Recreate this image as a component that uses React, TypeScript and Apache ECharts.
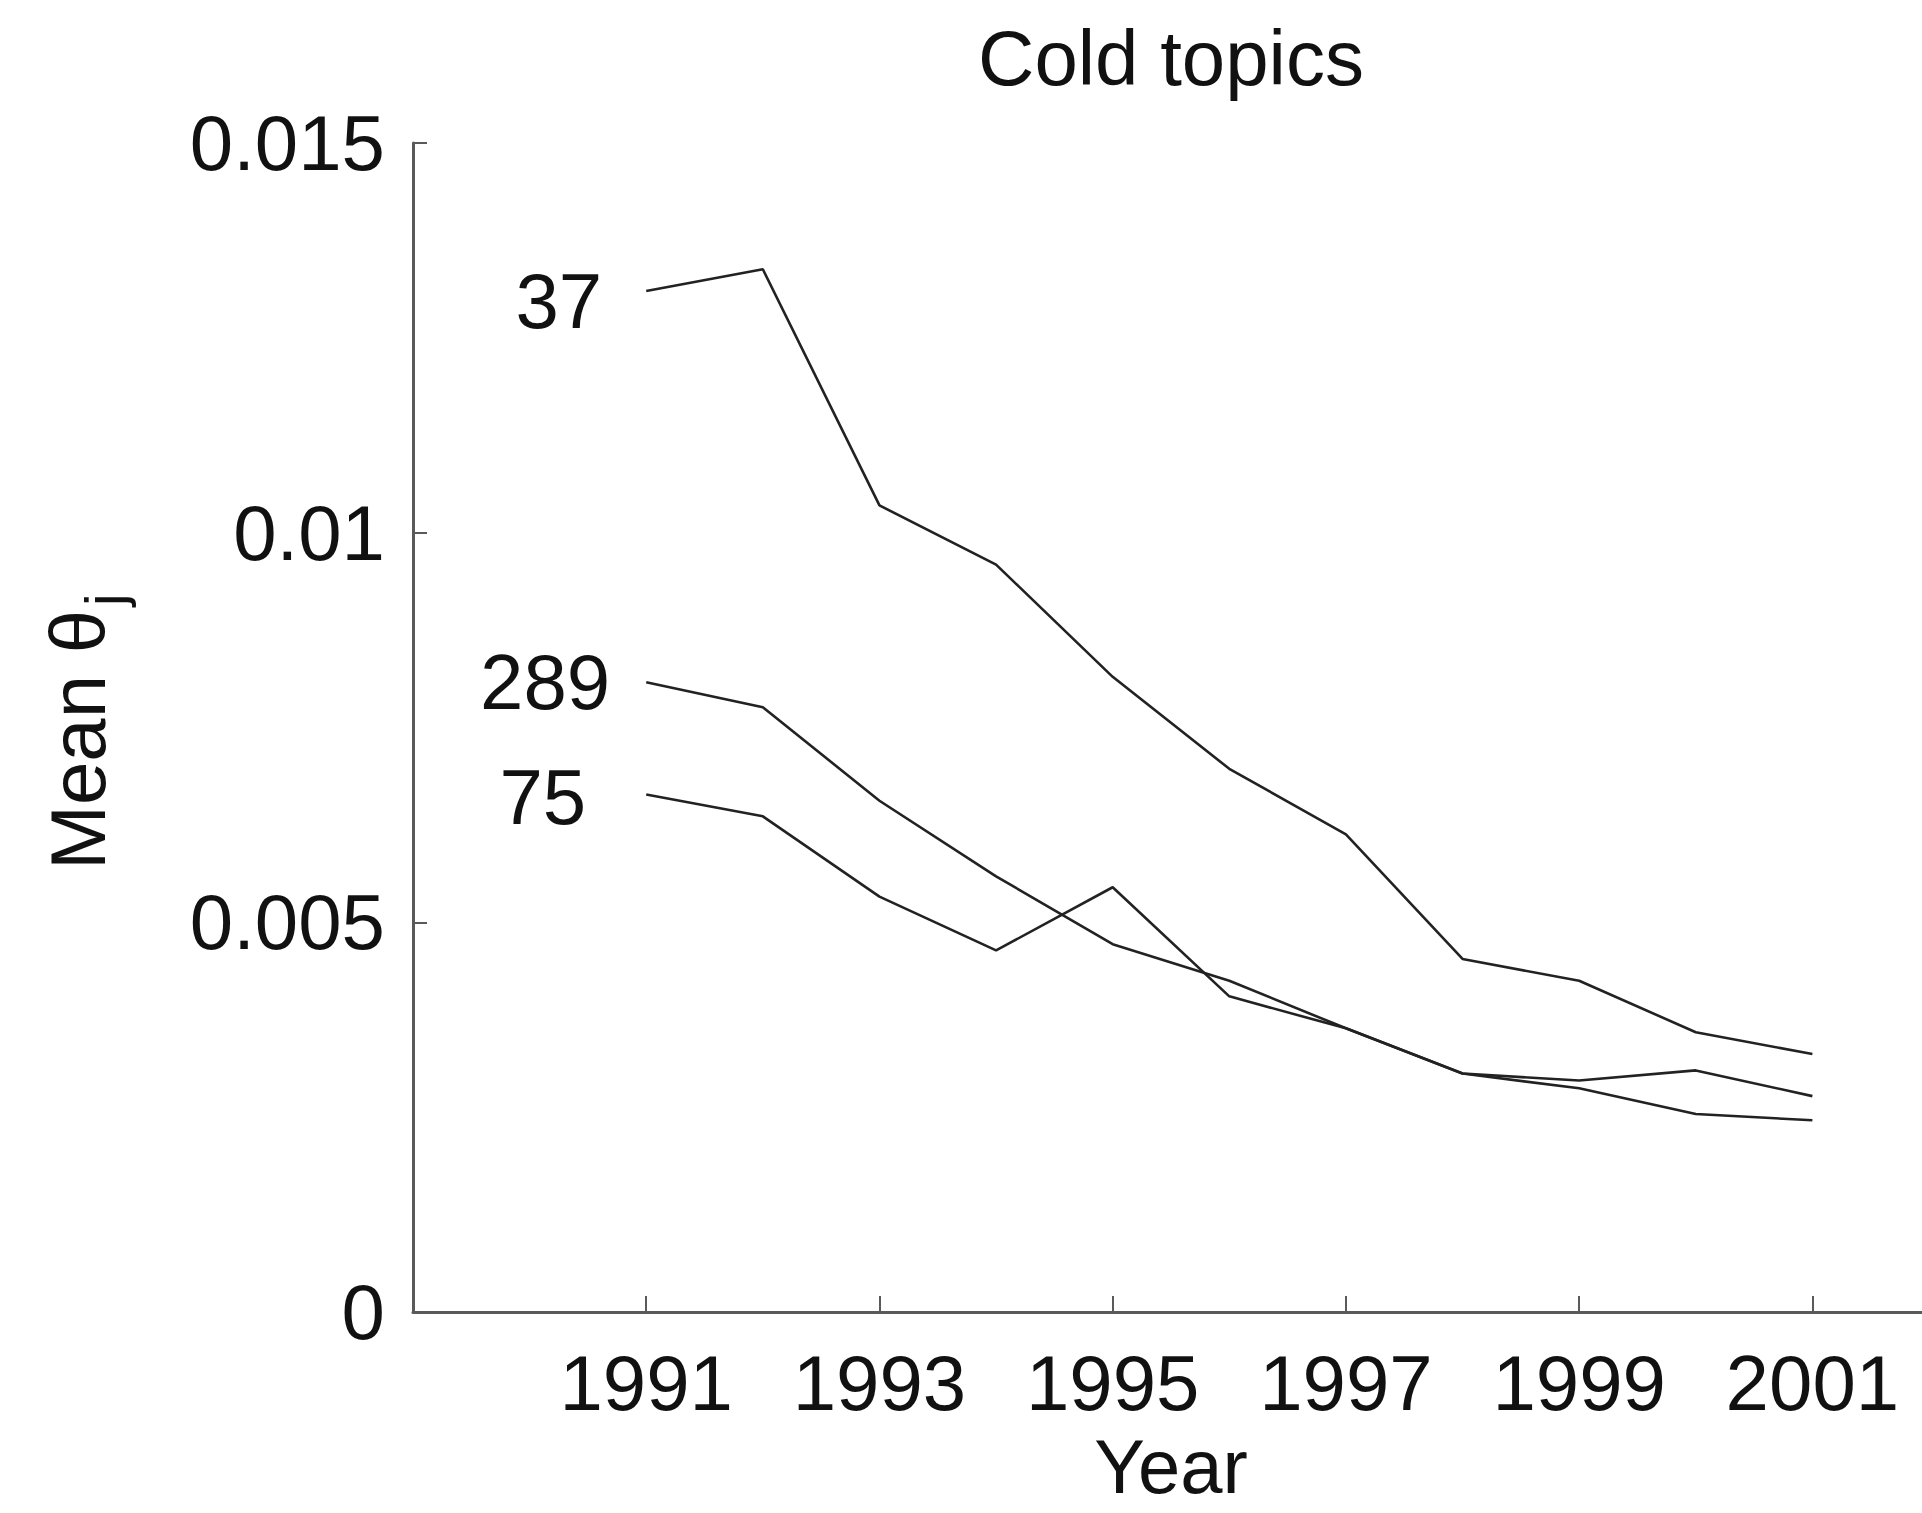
import React, { useEffect, useRef } from "react";
import * as echarts from "echarts";

const years = [1991, 1992, 1993, 1994, 1995, 1996, 1997, 1998, 1999, 2000, 2001];
const topic37 = [0.0131, 0.01338, 0.01035, 0.00959, 0.00815, 0.00697, 0.00613, 0.00453, 0.00425, 0.00359, 0.00331];
const topic289 = [0.00808, 0.00776, 0.00656, 0.00559, 0.00472, 0.00425, 0.00364, 0.00306, 0.00287, 0.00254, 0.00246];
const topic75 = [0.00664, 0.00636, 0.00533, 0.00464, 0.00545, 0.00405, 0.00364, 0.00306, 0.00297, 0.0031, 0.00277];
const xTickLabels = [1991, 1993, 1995, 1997, 1999, 2001];
const yTickValues = [0, 0.005, 0.01, 0.015];
const seriesNames = ["37", "289", "75"];

const FONT = "Liberation Sans, Arial, Helvetica, sans-serif";
const FS = 78;
const LINE = "#222222";
const AXIS = "#5a5a5a";

export default function App() {
  const ref = useRef<HTMLDivElement>(null);
  useEffect(() => {
    if (!ref.current) return;
    const chart = echarts.init(ref.current, null, { renderer: "svg" });
    const seriesData = [topic37, topic289, topic75];
    const labelDist = [44, 36, 60];
    const labelOff = [[0, 10], [0, 0], [0, 2]];
    chart.setOption({
      animation: false,
      backgroundColor: "#ffffff",
      grid: { left: 413, top: 143, bottom: 201, right: 0 },
      xAxis: {
        type: "value",
        min: 1989,
        max: 2001.94,
        interval: 2,
        axisLine: { show: true, lineStyle: { color: AXIS, width: 3 } },
        axisTick: { show: true, inside: true, length: 16, customValues: xTickLabels, lineStyle: { color: AXIS, width: 2 } },
        axisLabel: {
          customValues: xTickLabels,
          margin: 32,
          color: "#111",
          fontFamily: FONT,
          fontSize: FS,
          formatter: (v: number) => String(v),
        },
        splitLine: { show: false },
      },
      yAxis: {
        type: "value",
        min: 0,
        max: 0.015,
        interval: 0.005,
        axisLine: { show: true, lineStyle: { color: AXIS, width: 3 } },
        axisTick: { show: true, inside: true, length: 14, customValues: yTickValues, lineStyle: { color: AXIS, width: 2 } },
        axisLabel: {
          margin: 28,
          color: "#111",
          fontFamily: FONT,
          fontSize: FS,
          formatter: (v: number) => String(parseFloat(v.toFixed(4))),
        },
        splitLine: { show: false },
      },
      graphic: [
        {
          type: "text",
          x: 1171,
          y: 58,
          style: {
            text: "Cold topics",
            fontFamily: FONT,
            fontSize: FS,
            fill: "#111",
            textAlign: "center",
            textVerticalAlign: "middle",
          },
        },
        {
          type: "text",
          x: 1171,
          y: 1466,
          style: {
            text: "Year",
            fontFamily: FONT,
            fontSize: 76,
            fill: "#111",
            textAlign: "center",
            textVerticalAlign: "middle",
          },
        },
        {
          type: "group",
          x: 78,
          y: 728,
          rotation: Math.PI / 2,
          children: [
            {
              type: "text",
              x: -12,
              y: 0,
              style: {
                text: "Mean θ",
                fontFamily: FONT,
                fontSize: FS,
                fill: "#111",
                textAlign: "center",
                textVerticalAlign: "middle",
              },
            },
            {
              type: "text",
              x: 122,
              y: 26,
              style: {
                text: "j",
                fontFamily: FONT,
                fontSize: 56,
                fill: "#111",
                textAlign: "left",
                textVerticalAlign: "middle",
              },
            },
          ],
        },
      ],
      series: seriesData.map((vals, si) => ({
        name: seriesNames[si],
        type: "line",
        symbol: "circle",
        symbolSize: 0,
        showSymbol: true,
        lineStyle: { color: LINE, width: 2.6 },
        itemStyle: { color: LINE },
        data: vals.map((v, i) =>
          i === 0
            ? {
                value: [years[i], v],
                label: {
                  show: true,
                  position: "left",
                  distance: labelDist[si],
                  offset: labelOff[si],
                  formatter: seriesNames[si],
                  fontFamily: FONT,
                  fontSize: FS,
                  color: "#111",
                },
              }
            : [years[i], v]
        ),
      })),
    });
    return () => chart.dispose();
  }, []);
  return (
    <div
      ref={ref}
      style={{ position: "fixed", left: 0, top: 0, width: 1922, height: 1513 }}
    />
  );
}
